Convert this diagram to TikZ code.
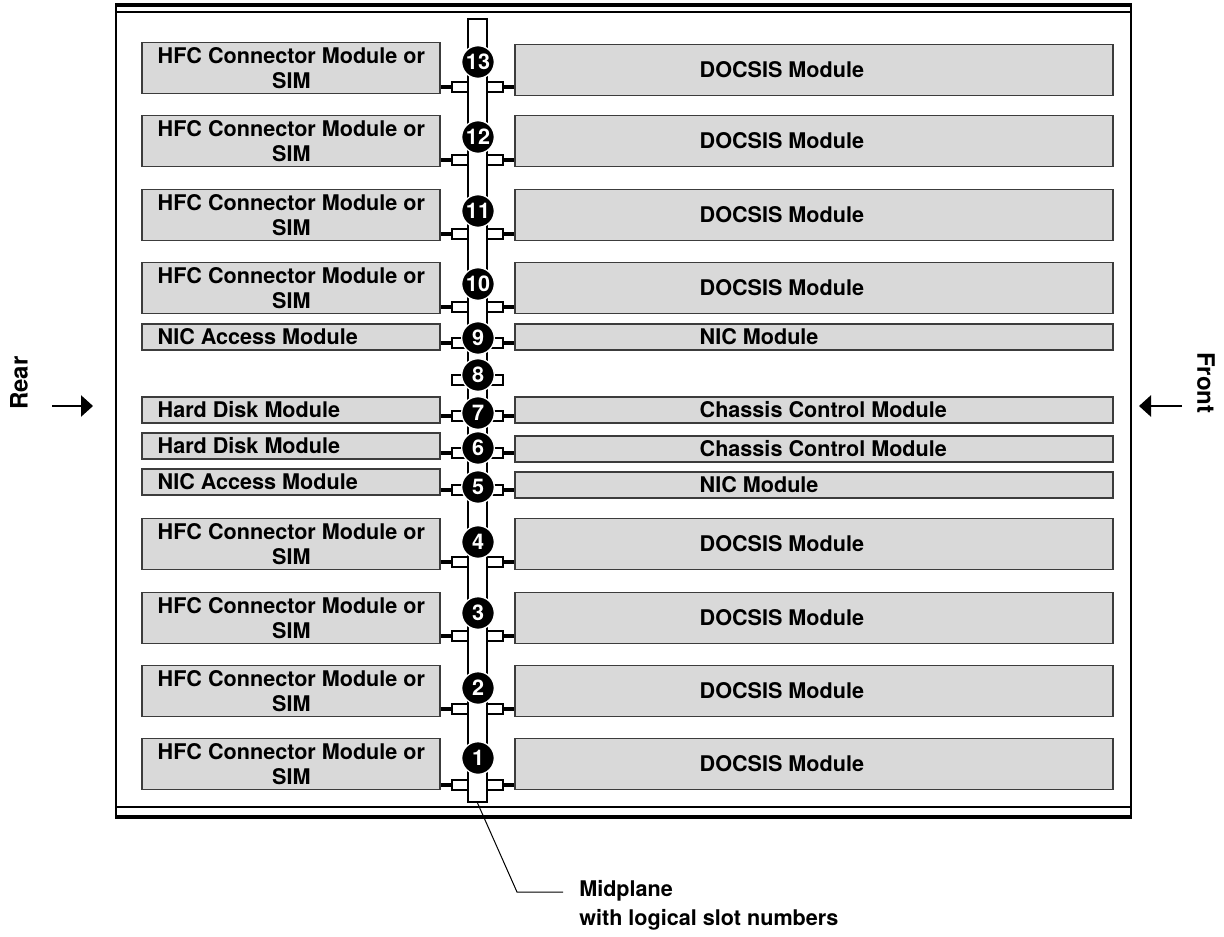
\documentclass[tikz,border=0pt]{standalone}
\usepackage{fontspec}
\setmainfont{TeX Gyre Heros}
\usepackage{xcolor}
\definecolor{modfill}{HTML}{D9D9D9}
\definecolor{modedge}{HTML}{3C3C3C}
\usetikzlibrary{arrows.meta,positioning}
\tikzset{
  >={Triangle[length=9pt,width=16pt]},
  txt/.style     ={font=\fontsize{16.2}{18.5}\selectfont\bfseries},
  bigtxt/.style  ={font=\fontsize{18}{20}\selectfont\bfseries},
  modbox/.style  ={draw=modedge,fill=modfill,line width=0.9pt,inner sep=0pt},
  tallbox/.style ={modbox,minimum height=38.25pt},
  flatbox/.style ={modbox,minimum height=19.5pt},
  rearmod/.style ={minimum width=223.5pt,
                   label={[txt,align=center,inner sep=0pt,anchor=west,xshift=12pt]west:#1}},
  frontmod/.style={minimum width=448.5pt,
                   label={[txt,inner sep=0pt,anchor=west,xshift=138.75pt]west:#1}},
  plug/.style    ={draw,fill=white,line width=1pt,minimum width=12pt,
                   minimum height=7.5pt,inner sep=0pt},
  wire/.style    ={line width=3pt},
  slotnum/.style ={circle,fill=black,draw=white,line width=1pt,text=white,
                   txt,minimum size=24.5pt,inner sep=0pt},
  board/.style   ={draw,fill=white,line width=1.5pt,minimum width=14.25pt,
                   minimum height=587.25pt,inner sep=0pt},
  side/.style    ={->,line width=1.1pt},
}
\begin{document}
\begin{tikzpicture}[x=0.75pt,y=-0.75pt]
\useasboundingbox (0,0) rectangle (1224,936);
%---------------- chassis frame
\draw[line width=2.4pt] (115,5) -- (1132,5);
\draw[line width=1.5pt] (116,12) -- (1131,12);
\draw[line width=1.5pt] (116,807) -- (1131,807);
\draw[line width=2.4pt] (115,817) -- (1132,817);
\draw[line width=1.6pt] (116,5) -- (116,817);
\draw[line width=2.2pt] (1131,5) -- (1131,817);
%---------------- rear modules
\node[tallbox,rearmod={HFC Connector Module or\\SIM}] (r13) at (291,68) {};
\node[tallbox,rearmod={HFC Connector Module or\\SIM}] (r12) at (291,141) {};
\node[tallbox,rearmod={HFC Connector Module or\\SIM}] (r11) at (291,215) {};
\node[tallbox,rearmod={HFC Connector Module or\\SIM}] (r10) at (291,288) {};
\node[flatbox,rearmod={NIC Access Module}] (r9) at (291,337) {};
\node[flatbox,rearmod={Hard Disk Module}] (r7) at (291,410) {};
\node[flatbox,rearmod={Hard Disk Module}] (r6) at (291,446) {};
\node[flatbox,rearmod={NIC Access Module}] (r5) at (291,482) {};
\node[tallbox,rearmod={HFC Connector Module or\\SIM}] (r4) at (291,544) {};
\node[tallbox,rearmod={HFC Connector Module or\\SIM}] (r3) at (291,618) {};
\node[tallbox,rearmod={HFC Connector Module or\\SIM}] (r2) at (291,691) {};
\node[tallbox,rearmod={HFC Connector Module or\\SIM}] (r1) at (291,764) {};
%---------------- front modules
\node[tallbox,frontmod={DOCSIS Module}] (f13) at (814,70) {};
\node[tallbox,frontmod={DOCSIS Module}] (f12) at (814,141) {};
\node[tallbox,frontmod={DOCSIS Module}] (f11) at (814,215) {};
\node[tallbox,frontmod={DOCSIS Module}] (f10) at (814,288) {};
\node[flatbox,frontmod={NIC Module}] (f9) at (814,337) {};
\node[flatbox,frontmod={Chassis Control Module}] (f7) at (814,410) {};
\node[flatbox,frontmod={Chassis Control Module}] (f6) at (814,449) {};
\node[flatbox,frontmod={NIC Module}] (f5) at (814,485) {};
\node[tallbox,frontmod={DOCSIS Module}] (f4) at (814,544) {};
\node[tallbox,frontmod={DOCSIS Module}] (f3) at (814,618) {};
\node[tallbox,frontmod={DOCSIS Module}] (f2) at (814,691) {};
\node[tallbox,frontmod={DOCSIS Module}] (f1) at (814,764) {};
%---------------- midplane with plugs
\node[board] (mid) at (477.5,410.5) {};
\node[plug] (pl13) at (460,87) {};  \node[plug] (pr13) at (495,87) {};
\node[plug] (pl12) at (460,160) {}; \node[plug] (pr12) at (495,160) {};
\node[plug] (pl11) at (460,234) {}; \node[plug] (pr11) at (495,234) {};
\node[plug] (pl10) at (460,307) {}; \node[plug] (pr10) at (495,307) {};
\node[plug] (pl9) at (460,343) {};  \node[plug] (pr9) at (495,343) {};
\node[plug] (pl8) at (460,380) {};  \node[plug] (pr8) at (495,380) {};
\node[plug] (pl7) at (460,416) {};  \node[plug] (pr7) at (495,416) {};
\node[plug] (pl6) at (460,453) {};  \node[plug] (pr6) at (495,453) {};
\node[plug] (pl5) at (460,490) {};  \node[plug] (pr5) at (495,490) {};
\node[plug] (pl4) at (460,562) {};  \node[plug] (pr4) at (495,562) {};
\node[plug] (pl3) at (460,636) {};  \node[plug] (pr3) at (495,636) {};
\node[plug] (pl2) at (460,709) {};  \node[plug] (pr2) at (495,709) {};
\node[plug] (pl1) at (460,785) {};  \node[plug] (pr1) at (495,785) {};
%---------------- wires
\draw[wire] (r13.east |- pl13) -- (pl13.west); \draw[wire] (pr13.east) -- (f13.west |- pr13);
\draw[wire] (r12.east |- pl12) -- (pl12.west); \draw[wire] (pr12.east) -- (f12.west |- pr12);
\draw[wire] (r11.east |- pl11) -- (pl11.west); \draw[wire] (pr11.east) -- (f11.west |- pr11);
\draw[wire] (r10.east |- pl10) -- (pl10.west); \draw[wire] (pr10.east) -- (f10.west |- pr10);
\draw[wire] (r9.east |- pl9) -- (pl9.west);    \draw[wire] (pr9.east) -- (f9.west |- pr9);
\draw[wire] (r7.east |- pl7) -- (pl7.west);    \draw[wire] (pr7.east) -- (f7.west |- pr7);
\draw[wire] (r6.east |- pl6) -- (pl6.west);    \draw[wire] (pr6.east) -- (f6.west |- pr6);
\draw[wire] (r5.east |- pl5) -- (pl5.west);    \draw[wire] (pr5.east) -- (f5.west |- pr5);
\draw[wire] (r4.east |- pl4) -- (pl4.west);    \draw[wire] (pr4.east) -- (f4.west |- pr4);
\draw[wire] (r3.east |- pl3) -- (pl3.west);    \draw[wire] (pr3.east) -- (f3.west |- pr3);
\draw[wire] (r2.east |- pl2) -- (pl2.west);    \draw[wire] (pr2.east) -- (f2.west |- pr2);
\draw[wire] (r1.east |- pl1) -- (pl1.west);    \draw[wire] (pr1.east) -- (f1.west |- pr1);
%---------------- logical slot numbers
\node[slotnum] (s13) at (478,62) {13};
\node[slotnum] (s12) at (478,137) {12};
\node[slotnum] (s11) at (478,211) {11};
\node[slotnum] (s10) at (478,284) {10};
\node[slotnum] (s9) at (478,338) {9};
\node[slotnum] (s8) at (478,375) {8};
\node[slotnum] (s7) at (478,413) {7};
\node[slotnum] (s6) at (478,448) {6};
\node[slotnum] (s5) at (478,487) {5};
\node[slotnum] (s4) at (478,542) {4};
\node[slotnum] (s3) at (478,613) {3};
\node[slotnum] (s2) at (478,688) {2};
\node[slotnum] (s1) at (478,758) {1};
%---------------- rear / front
\node[bigtxt,rotate=90] (rear) at (19,383) {Rear};
\coordinate (rearfrom) at (52,406); \coordinate (rearto) at (93,406);
\draw[side] (rearfrom) -- (rearto);
\node[bigtxt,rotate=-90] (front) at (1206,383) {Front};
\coordinate (frontfrom) at (1182,406); \coordinate (frontto) at (1139,406);
\draw[side] (frontfrom) -- (frontto);
%---------------- midplane callout
\node[txt,align=left,anchor=west,inner sep=0pt] (midlbl) at (579,905)
  {Midplane\\[3.25pt]with logical slot numbers};
\coordinate (bend) at (517,892); \coordinate (leadend) at (563,892);
\draw[line width=0.75pt] (mid.south) -- (bend) -- (leadend);
\end{tikzpicture}
\end{document}
